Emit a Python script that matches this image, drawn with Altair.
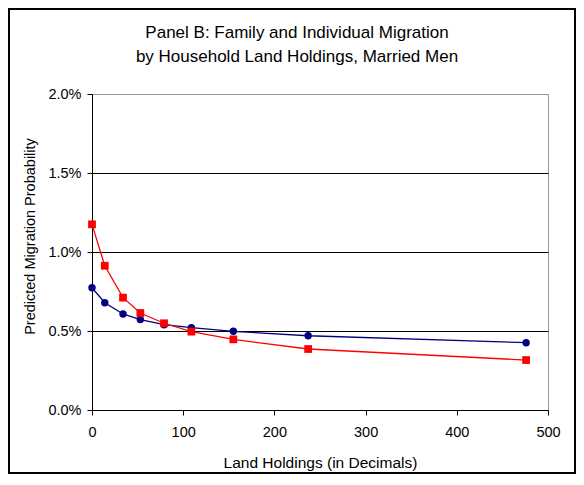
import altair as alt
import pandas as pd

# Land holdings (in decimals) at which predictions are plotted
land = [0, 14, 34, 53, 79, 109, 155, 237, 476]
# Predicted migration probability (%), blue series (circles)
blue_pct = [0.774, 0.679, 0.608, 0.572, 0.540, 0.521, 0.498, 0.470, 0.426]
# Predicted migration probability (%), red series (squares)
red_pct = [1.175, 0.913, 0.711, 0.614, 0.549, 0.496, 0.447, 0.386, 0.316]

series_names = ["Family migration", "Individual migration"]
y_ticks = [0, 0.005, 0.01, 0.015, 0.02]
x_ticks = [0, 100, 200, 300, 400, 500]
title_lines = ["Panel B: Family and Individual Migration",
               "by Household Land Holdings, Married Men"]

df = pd.DataFrame({
    "land": land + land,
    "prob": [v / 100 for v in blue_pct] + [v / 100 for v in red_pct],
    "series": [series_names[0]] * len(land) + [series_names[1]] * len(land),
})

FONT = "Liberation Sans"

x_enc = alt.X(
    "land:Q",
    scale=alt.Scale(domain=[0, 500], nice=False),
    axis=alt.Axis(
        values=x_ticks, grid=False, title="Land Holdings (in Decimals)",
        tickSize=5, labelPadding=10, labelFlush=False, labelOverlap=False,
        labelFontSize=14.5, titleFontSize=15.5, titleY=57,
        titleBaseline="alphabetic",
    ),
)
y_enc = alt.Y(
    "prob:Q",
    scale=alt.Scale(domain=[0, 0.02], nice=False),
    axis=alt.Axis(
        values=y_ticks, format=".1%", title="Predicted Migration Probability",
        grid=True,
        gridColor={"condition": {"test": "datum.value >= 0.02", "value": "#999999"},
                   "value": "#000000"},
        gridOpacity=1, gridWidth=1,
        tickSize=5, labelPadding=6, labelFlush=False,
        labelFontSize=14.5, titleFontSize=14.5,
        titleAngle=270, titleX=-58, titleY=142, titleAlign="center",
        titleBaseline="alphabetic",
    ),
)

base = alt.Chart(df).encode(x=x_enc, y=y_enc)

blue_line = base.transform_filter(alt.datum.series == series_names[0]).mark_line(
    color="#000080", strokeWidth=1.3)
blue_pts = base.transform_filter(alt.datum.series == series_names[0]).mark_point(
    shape="circle", filled=True, size=55, color="#000080", opacity=1)
red_line = base.transform_filter(alt.datum.series == series_names[1]).mark_line(
    color="#FF0000", strokeWidth=1.3)
red_pts = base.transform_filter(alt.datum.series == series_names[1]).mark_point(
    shape="square", filled=True, size=60, color="#FF0000", opacity=1)

one = pd.DataFrame({"f": [0]})
frame = alt.Chart(one).mark_rect(
    fill=None, stroke="black", strokeWidth=2
).encode(x=alt.value(-83), x2=alt.value(483), y=alt.value(-85), y2=alt.value(379))

title1 = alt.Chart(one).mark_text(
    text=title_lines[0], font=FONT, fontSize=17, color="black",
    align="center", baseline="alphabetic",
).encode(x=alt.value(205), y=alt.value(-56))
title2 = alt.Chart(one).mark_text(
    text=title_lines[1], font=FONT, fontSize=17, color="black",
    align="center", baseline="alphabetic",
).encode(x=alt.value(205), y=alt.value(-32))

chart = alt.layer(frame, title1, title2, blue_line, blue_pts, red_line, red_pts).properties(
    width=456,
    height=316,
    autosize=alt.AutoSizeParams(type="none"),
    padding={"left": 84, "top": 86, "right": 28, "bottom": 64},
).configure(
    background="white",
).configure_view(
    stroke="#999999", strokeWidth=1,
).configure_axis(
    labelFont=FONT, titleFont=FONT, labelColor="black", titleColor="black",
    titleFontWeight="normal", domainColor="black", tickColor="black",
    domainWidth=1, tickWidth=1,
)

chart.save("out.html", embed_options={"renderer": "svg", "actions": False})
